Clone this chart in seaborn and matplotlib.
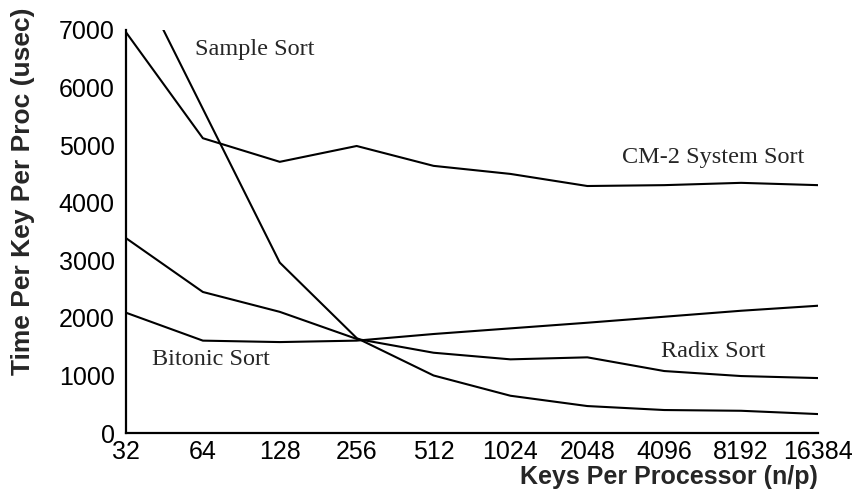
import numpy as np
import pandas as pd
import matplotlib.pyplot as plt
import seaborn as sns

keys = [32, 64, 128, 256, 512, 1024, 2048, 4096, 8192, 16384]
cm2_sort = [6960, 5120, 4710, 4985, 4640, 4500, 4290, 4305, 4345, 4305]
sample_sort = [8300, 5630, 2960, 1650, 1000, 648, 469, 400, 387, 330]
radix_sort = [3385, 2450, 2105, 1635, 1395, 1280, 1315, 1077, 990, 955]
bitonic_sort = [2090, 1605, 1580, 1605, 1720, 1818, 1916, 2020, 2124, 2211]

names = ["CM-2 System Sort", "Sample Sort", "Radix Sort", "Bitonic Sort"]
df = pd.DataFrame({
    "keys": keys * 4,
    "time": cm2_sort + sample_sort + radix_sort + bitonic_sort,
    "sort": sum([[n] * len(keys) for n in names], []),
})

sns.set_style("white")
plt.rcParams['font.family'] = ['Liberation Sans', 'DejaVu Sans']

fig = plt.figure(figsize=(8.57, 4.91), dpi=100)
ax = fig.add_axes([0.147, 0.118, 0.8075, 0.821])
sns.lineplot(data=df, x="keys", y="time", hue="sort", palette=["black"] * 4,
             legend=False, linewidth=1.5, ax=ax)
ax.set_xscale("log", base=2)
ax.set_xlim(32, 16384)
ax.set_ylim(0, 7000)
ax.set_xticks(keys)
ax.set_xticklabels([str(k) for k in keys])
ax.minorticks_off()
ax.set_yticks(range(0, 7001, 1000))
ax.tick_params(direction="in", length=8, width=1.5, labelsize=18, colors="black")
ax.tick_params(axis="y", pad=8)
ax.tick_params(axis="x", pad=5)
for s in ["top", "right"]:
    ax.spines[s].set_visible(False)
for s in ["left", "bottom"]:
    ax.spines[s].set_linewidth(1.6)
    ax.spines[s].set_color("black")

ax.set_xlabel("Keys Per Processor (n/p)", fontsize=18, fontweight="bold", labelpad=0)
ax.xaxis.set_label_coords(1.0, -0.08)
ax.xaxis.label.set_horizontalalignment("right")
ax.set_ylabel("Time Per Key Per Proc (usec)", fontsize=19, fontweight="bold")
ax.yaxis.set_label_coords(-0.131, 0.60)

serif = dict(fontsize=17.5, family="Liberation Serif", va="center", ha="left")
ax.text(59.6, 6653, "Sample Sort", **serif)
ax.text(2800, 4777, "CM-2 System Sort", **serif)
ax.text(40.4, 1285, "Bitonic Sort", **serif)
ax.text(3975, 1424, "Radix Sort", **serif)

fig.savefig("out.png", dpi=100)
